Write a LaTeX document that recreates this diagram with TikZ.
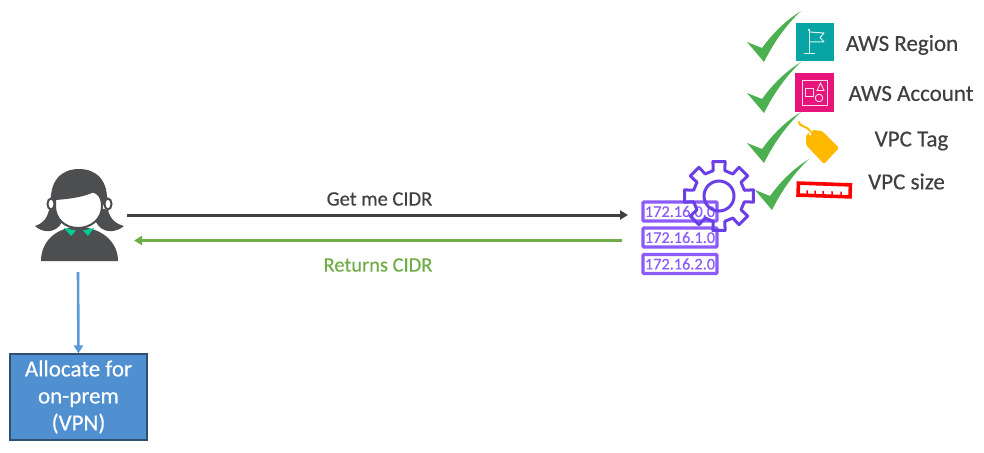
\documentclass[tikz,border=0pt]{standalone}
\usepackage{fontspec}
\setmainfont{Carlito}[RawFeature={embolden=0.35}]
\usetikzlibrary{arrows.meta}
\definecolor{dk}{HTML}{404040}
\definecolor{person}{HTML}{4D4E50}
\definecolor{grn}{HTML}{70AD47}
\definecolor{chk}{HTML}{4CAF50}
\definecolor{blu}{HTML}{5B9BD5}
\definecolor{boxfill}{HTML}{5090D0}
\definecolor{boxline}{HTML}{2F5070}
\definecolor{ipcol}{HTML}{8C5CFA}
\definecolor{gearc}{HTML}{6A40E6}
\definecolor{collar}{HTML}{00CC99}
\definecolor{regionc}{HTML}{09A5A5}
\definecolor{acctc}{HTML}{E7157B}
\definecolor{tagc}{HTML}{FFB900}
\tikzset{
  lbl/.style={font=\fontsize{23}{27}\selectfont,text=dk,inner sep=0pt},
  msg/.style={font=\fontsize{20.5}{24}\selectfont,text=dk,inner sep=0pt},
  iplbl/.style={draw=ipcol,line width=3.4pt,text=ipcol,minimum width=74pt,minimum height=19pt,inner sep=0pt,font=\fontsize{16.3}{18}\selectfont,rounded corners=1pt},
  conn/.style={line width=3pt,-{Triangle[length=8pt,width=9pt]}},
  iconw/.style={draw=white,line width=1pt,opacity=.85}
}
\newcommand{\chkmark}[1]{\fill[chk,shift={(#1)}] (0,0) -- (15,6) .. controls (26,-9) and (38,-21) .. (54,-31) .. controls (38,-16) and (26,2) .. (17,20) -- cycle;}
\begin{document}
\begin{tikzpicture}[x=1pt,y=-1pt]
\useasboundingbox (0,0) rectangle (984,452);
\fill[white] (0,0) rectangle (984,452);

% person
\fill[person] (41,261) .. controls (41,240) and (58,227) .. (78,227) .. controls (99,227) and (118,240) .. (118,261) -- cycle;
\fill[person] (51,205) .. controls (49,180) and (62,169) .. (79,169) .. controls (96,169) and (109,180) .. (107,205) -- cycle;
\fill[person] (49,210) .. controls (47,219) and (42,224) .. (35,226) .. controls (42,233) and (56,234) .. (62,222) -- (58,208) -- cycle;
\fill[person] (108,210) .. controls (110,219) and (116,224) .. (124,226) .. controls (116,233) and (102,234) .. (96,222) -- (100,208) -- cycle;
\draw[person,line width=2pt,fill=white] (51,204) ellipse (3.5pt and 5.5pt);
\draw[person,line width=2pt,fill=white] (108,204) ellipse (3.5pt and 5.5pt);
\fill[white,draw=person,line width=2pt] (55,199) .. controls (70,198) and (83,196) .. (93,191.5) .. controls (99,193) and (102,198) .. (102,206)
  .. controls (102,219) and (91,228) .. (78,228) .. controls (65,228) and (55,219) .. (55,206) -- cycle;
\fill[collar] (64,228) -- (76,230.5) -- (71,236) -- cycle;
\fill[collar] (83,230.5) -- (94,228) -- (88,236) -- cycle;

% box and connectors
\node[draw=boxline,line width=1.2pt,fill=boxfill,text=white,minimum width=137pt,minimum height=86pt,inner sep=0pt,align=center,font=\fontsize{23}{27}\selectfont] (alloc) at (78.5,397) {\raisebox{-1.5pt}{Allocate for}\\\raisebox{-1.5pt}{on-prem}\\\raisebox{-1.5pt}{(VPN)}};
\coordinate (pbot) at (78,272);
\coordinate (pout) at (127,215);
\coordinate (pin) at (134,240.5);
\coordinate (ipout) at (622,240.5);
\coordinate (ipin) at (628,215);
\draw[blu,line width=2.6pt,-{Triangle[length=8pt,width=9pt]}] (pbot) -- (alloc.north);

% ip boxes
\node[iplbl] (ipa) at (680,211.5) {172.16.0.0};
\node[iplbl] (ipb) at (680,237.5) {172.16.1.0};
\node[iplbl] (ipc) at (680,264) {172.16.2.0};
\draw[dk,conn] (pout) -- (ipin);
\draw[grn,conn] (ipout) -- (pin);
\node[msg] (getlbl) at (379.5,199) {Get me CIDR};
\node[msg,text=grn] (retlbl) at (378,265) {Returns CIDR};

% gear
\begin{scope}[shift={(719,196)}]
\foreach \a in {0,45,...,315} {
  \draw[gearc,line width=3pt,line join=round,line cap=round]
    ({\a-13}:26) -- ({\a-10}:35) -- ({\a+10}:35) -- ({\a+13}:26) -- ({\a+32}:26);
}
\draw[gearc,line width=3pt] (0,0) circle (15pt);
\end{scope}

% check marks
\chkmark{747,42}
\chkmark{747,93}
\chkmark{747,143}
\chkmark{755,190}

% region icon
\fill[regionc] (796,23) rectangle (834,61);
\draw[iconw] (809,30) -- (809,54) (804,54) -- (815,54);
\fill[white,opacity=.85] (809,30) circle (1.3pt);
\draw[iconw,line join=round] (809,32) -- (824,33) -- (820,37.5) -- (824,42) -- (809,42);

% account icon
\fill[acctc] (795,73) rectangle (834,112);
\draw[iconw,line width=.9pt] (802,80) rectangle (827,105);
\draw[iconw,line width=.9pt] (805,88) rectangle (813,96);
\draw[iconw,line width=.9pt] (820.5,83) -- (824,90.5) -- (817,90.5) -- cycle;
\draw[iconw,line width=.9pt] (819,98) circle (3.8pt);

% tag
\draw[tagc,line width=2pt,line cap=round] (799,122) .. controls (799,127) and (806,125) .. (810,131);
\fill[tagc,rounded corners=1.5pt] (806,135) -- (813,130) -- (822,131) -- (839,148) -- (824,164) -- (806,145) -- cycle;
\fill[white] (810,134) circle (1.5pt);

% ruler
\begin{scope}[shift={(796,196)},rotate=-2]
\draw[red,line width=3.6pt] (2,-13) rectangle (54,-1);
\foreach \t in {11,19,27,36,45}{\draw[red,line width=1.5pt] (\t,-1) -- (\t,-6);}
\end{scope}

% labels
\node[lbl] (lrg) at (902,45) {AWS Region};
\node[lbl] (lac) at (911,93.5) {AWS Account};
\node[lbl] (ltg) at (911.5,141) {VPC Tag};
\node[lbl] (lsz) at (906.5,181.5) {VPC size};
\end{tikzpicture}
\end{document}
